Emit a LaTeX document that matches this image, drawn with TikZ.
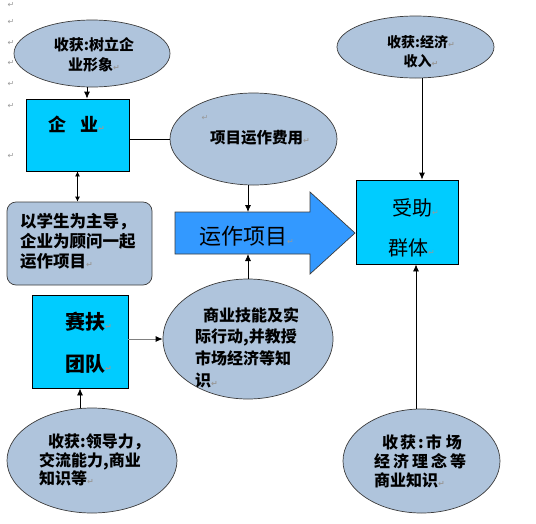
\documentclass[tikz,border=0pt]{standalone}
\usepackage{fontspec}
\setmainfont{Noto Sans CJK SC}
\newfontfamily\pmkfont{DejaVu Sans}
\usetikzlibrary{shapes.geometric,arrows.meta}
\definecolor{ovalfill}{RGB}{175,196,220}
\definecolor{boxfill}{RGB}{0,204,255}
\definecolor{arrowfill}{RGB}{51,153,255}
\definecolor{edgegray}{RGB}{60,60,60}
\newcommand\parmk{{\pmkfont\fontsize{8}{8}\selectfont\textcolor{gray!80}{↵}}}
\newcommand\fs[2]{\fontsize{#1}{#2}\selectfont}
\begin{document}
\begin{tikzpicture}[x=1pt,y=-1pt,
  oval/.style={ellipse,draw=edgegray,line width=0.7pt,fill=ovalfill,inner sep=0pt},
  cbox/.style={rectangle,draw=black,line width=0.8pt,fill=boxfill,inner sep=0pt},
  rbox/.style={rectangle,rounded corners=9pt,draw=edgegray,line width=0.7pt,fill=ovalfill,inner sep=0pt},
  txt/.style={inner sep=0pt,align=left},
  ctxt/.style={inner sep=0pt,align=center},
  arr/.style={line width=0.8pt,-{Latex[length=7pt,width=6pt]}},
  darr/.style={line width=0.8pt,{Latex[length=5pt,width=5pt]}-{Latex[length=5pt,width=5pt]}},
  pm/.style={inner sep=0pt}]
\useasboundingbox (0,0) rectangle (536,523);

% paragraph marks in left margin
\foreach \yy [count=\i] in {5,22,43,63,84,106,156}
  \node[pm] (pm\i) at (11,\yy) {\parmk};

% shapes
\node[oval,minimum width=156pt,minimum height=67pt] (e1) at (92,53.5) {};
\node[cbox,minimum width=103pt,minimum height=72pt] (qy) at (77.5,135) {};
\node[oval,minimum width=167pt,minimum height=92pt] (e2) at (253.5,139) {};
\node[oval,minimum width=157pt,minimum height=62pt] (e3) at (415.5,47) {};
\node[cbox,minimum width=102pt,minimum height=84pt] (sz) at (407,222) {};
\node[rbox,minimum width=145pt,minimum height=83pt] (rb) at (79.5,243.5) {};
\node[cbox,minimum width=96pt,minimum height=93pt] (sf) at (80,341.5) {};
\node[oval,minimum width=170pt,minimum height=120pt] (e4) at (248,339) {};
\node[oval,minimum width=170pt,minimum height=105pt] (e5) at (92,460.5) {};
\node[oval,minimum width=157pt,minimum height=104pt] (e6) at (421.5,461) {};

% big arrow
\draw[draw=edgegray,line width=0.7pt,fill=arrowfill]
  (175,212) -- (310,212) -- (310,192) -- (355,233) -- (310,274) -- (310,254) -- (175,254) -- cycle;
\coordinate (atop) at (248,212);
\coordinate (abot) at (248,254);

% texts
\node[ctxt,anchor=north,font=\fs{15}{19.5}\bfseries] (t1) at (94,37.5) {收获:树立企\\业形象\parmk};
\node[txt,anchor=north west,font=\fs{18}{18}\bfseries] (tqy) at (48,116) {企\hspace{14pt}业\parmk};
\node[pm] (pme2) at (205,118) {\parmk};
\node[txt,anchor=west,font=\fs{15.5}{16}\bfseries] (t2) at (210,138) {项目运作费用\parmk};
\node[ctxt,anchor=north,font=\fs{14}{19}\bfseries] (t3) at (421,35) {收获:经济\parmk\\收入\parmk};
\node[txt,anchor=west,font=\fs{22}{22}] (tyx) at (199,236) {运作项目\parmk};
\node[txt,anchor=west,font=\fs{20}{20}] (tsz1) at (392,208) {受助\parmk};
\node[txt,anchor=west,font=\fs{20}{20}] (tsz2) at (388,248) {群体\parmk};
\node[txt,anchor=north west,font=\fs{16.5}{20}\bfseries] (trb) at (20,213.5) {以学生为主导，\\企业为顾问一起\\运作项目\parmk};
\node[txt,anchor=west,font=\fs{20}{20}\bfseries] (tsf1) at (65,322) {赛扶\parmk};
\node[txt,anchor=west,font=\fs{20}{20}\bfseries] (tsf2) at (65,364) {团队\parmk};
\node[txt,anchor=north west,font=\fs{16}{21.7}\bfseries] (t4) at (195,307) {\hspace{8pt}商业技能及实\\际行动,并教授\\市场经济等知\\识\parmk};
\node[txt,anchor=north west,font=\fs{16}{18.3}\bfseries] (t5) at (39,434) {\hspace{9pt}收获:领导力，\\交流能力,商业\\知识等\parmk};
\node[txt,anchor=north west,font=\fs{16}{19}\bfseries] (t6) at (374,434) {\hspace{8pt}收\hspace{2pt}获\hspace{2pt}:\hspace{2pt}市\hspace{4pt}场\\经\hspace{3pt}济\hspace{3pt}理\hspace{3pt}念\hspace{3pt}等\\商业知识\parmk};

% connectors
\draw[arr] ([xshift=-5pt]e1.south) -- ([xshift=-5pt]e1.south |- qy.north);
\draw[line width=0.8pt] (qy.east |- e2.west) -- (e2.west);
\draw[arr] (atop |- e2.south) -- (atop);
\draw[arr] (abot |- e4.north) -- (abot);
\draw[darr] (qy.south) -- (qy.south |- rb.north);
\draw[line width=0.8pt,draw=gray,-{Latex[length=7pt,width=6pt,color=black]}] (sf.east |- e4.west) -- (e4.west);
\draw[arr] (sf.south |- e5.north) -- (sf.south);
\draw[arr] ([xshift=6.5pt]e3.south) -- ([xshift=6.5pt]e3.south |- sz.north);
\draw[arr] ([xshift=-5.5pt]e6.north) -- ([xshift=-5.5pt]e6.north |- sz.south);
\end{tikzpicture}
\end{document}
